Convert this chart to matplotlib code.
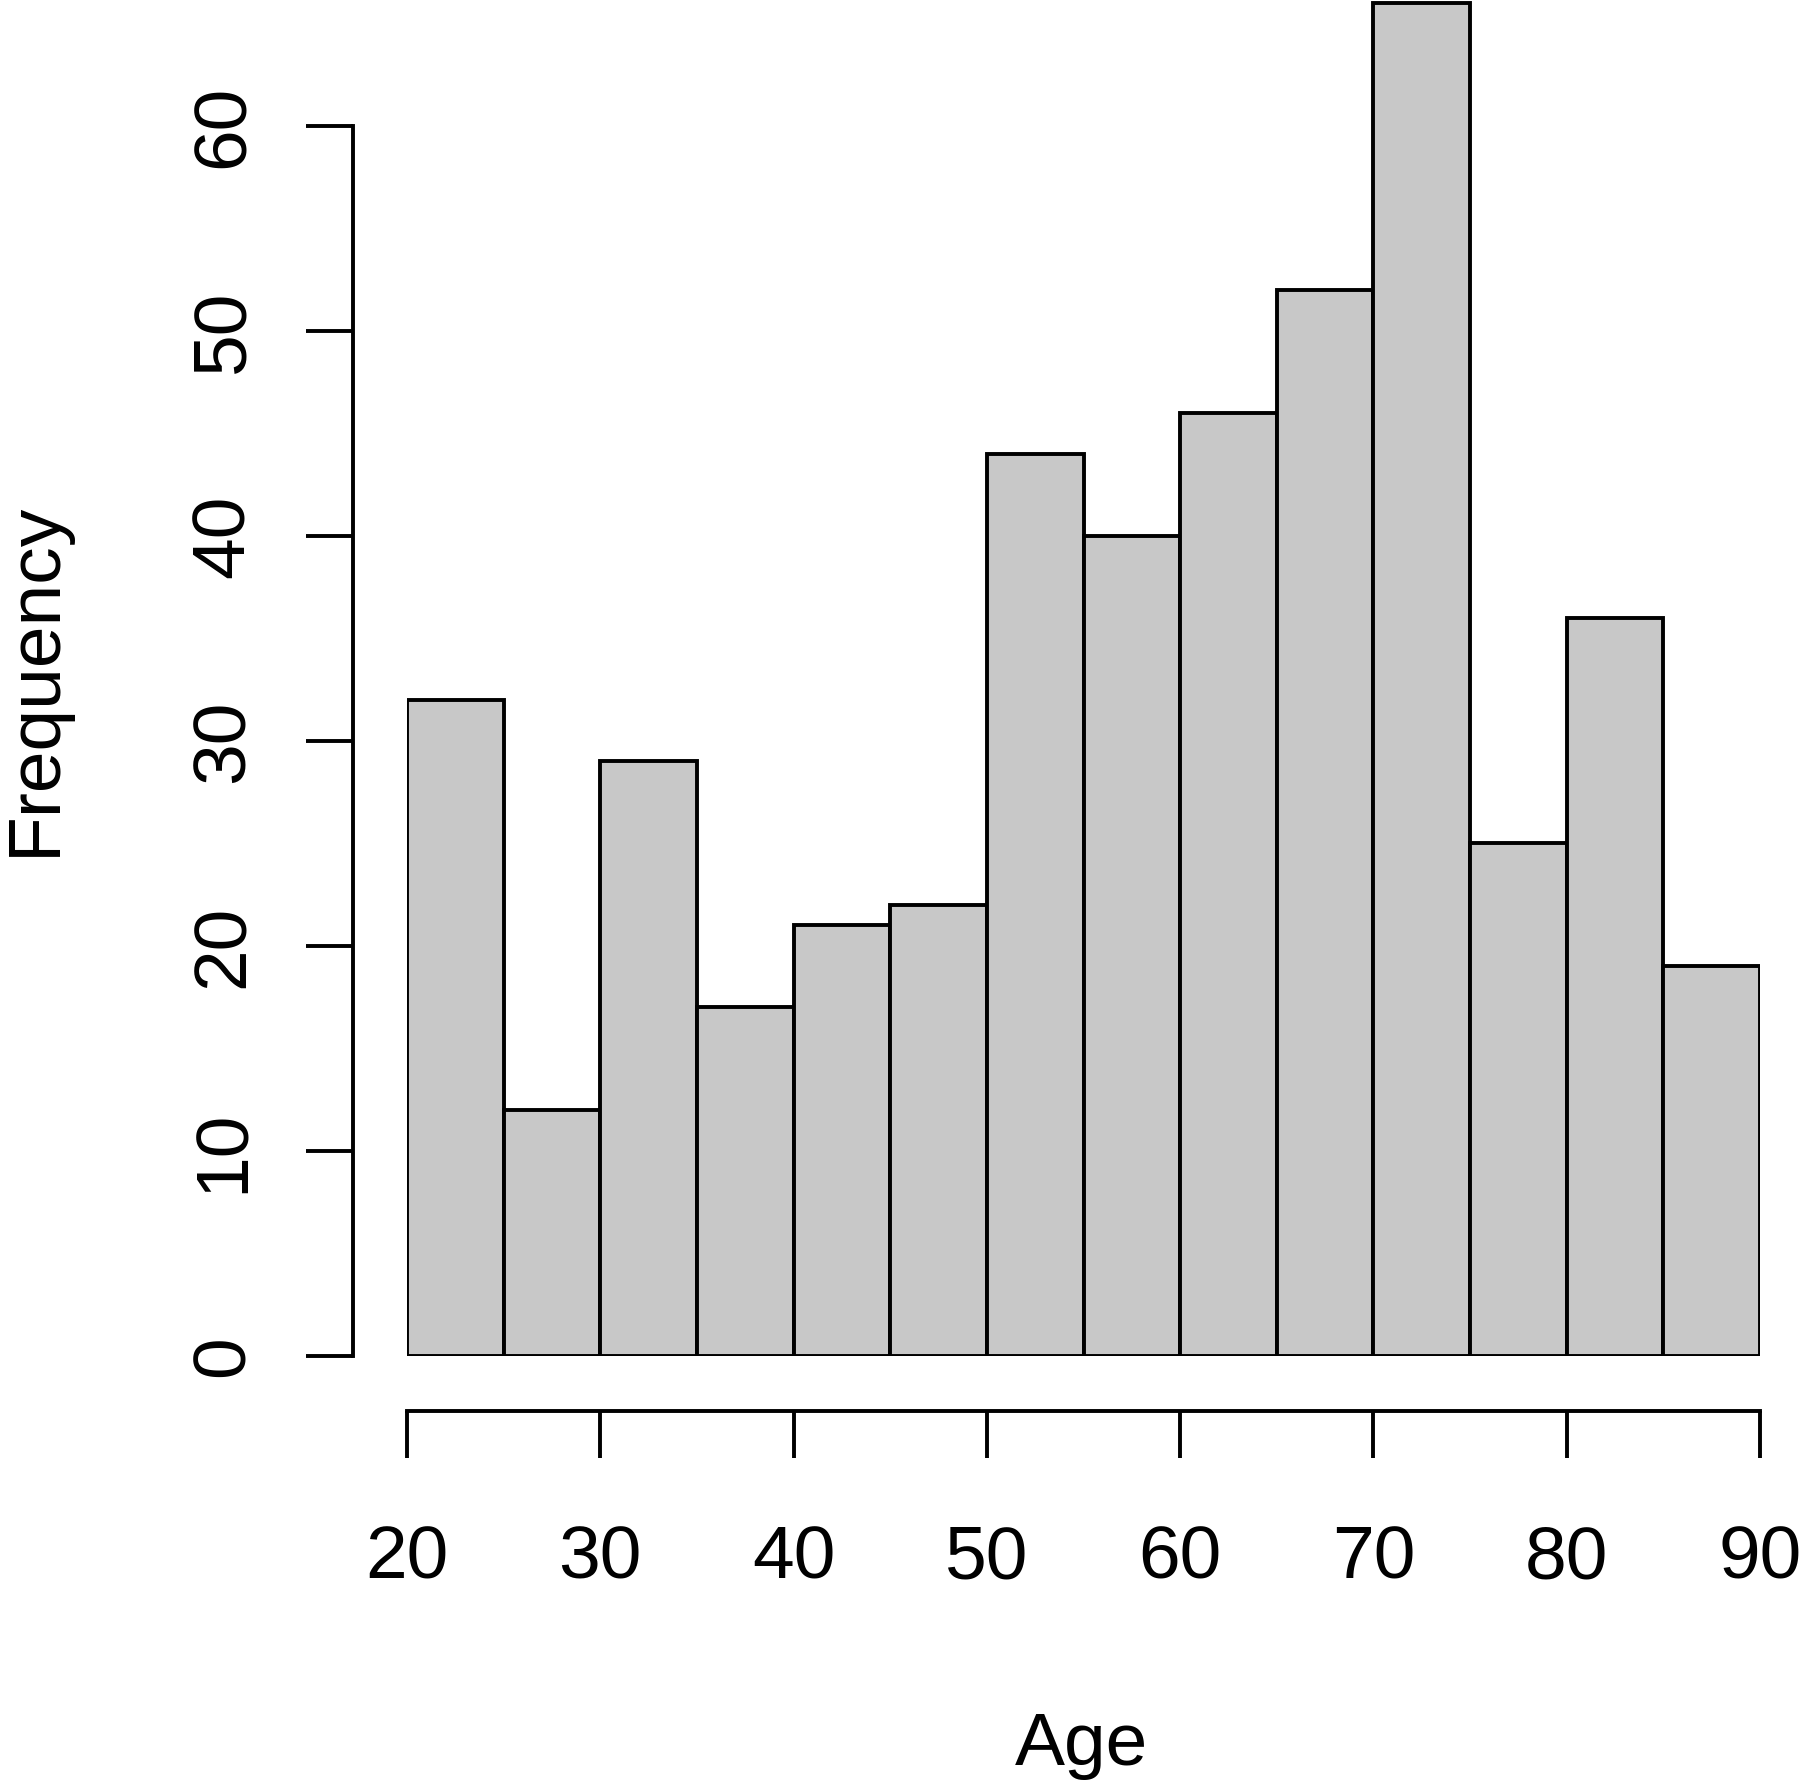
import matplotlib
matplotlib.use("Agg")
import matplotlib.pyplot as plt
from matplotlib import rcParams

rcParams["font.family"] = "Liberation Sans"

bin_left = [20, 25, 30, 35, 40, 45, 50, 55, 60, 65, 70, 75, 80, 85]
bin_width = 5
counts = [32, 12, 29, 17, 21, 22, 44, 40, 46, 52, 66, 25, 36, 19]
x_ticks = [20, 30, 40, 50, 60, 70, 80, 90]
y_ticks = [0, 10, 20, 30, 40, 50, 60]

W, H = 1800, 1781
PT = 0.72  # px -> pt at dpi 100

fig = plt.figure(figsize=(W / 100, H / 100), dpi=100)
ax = fig.add_axes([407 / W, 1 - 1356.5 / H, (1760 - 407) / W, 1356.5 / H])

ax.bar(bin_left, counts, width=bin_width, align="edge",
       color="#c8c8c8", edgecolor="black", linewidth=2.8)

ax.set_xlim(20, 90)
ax.set_ylim(0, 1356.5 / 205 * 10)

for side in ["top", "right"]:
    ax.spines[side].set_visible(False)
ax.spines["left"].set_bounds(0, 60)
ax.spines["bottom"].set_bounds(20, 90)
ax.spines["left"].set_position(("outward", 54 * PT))
ax.spines["bottom"].set_position(("outward", 55.5 * PT))
for side in ["left", "bottom"]:
    ax.spines[side].set_linewidth(2.8)

ax.set_xticks(x_ticks)
ax.set_yticks(y_ticks)
ax.tick_params(length=47 * PT, width=2.8, labelsize=54, direction="out")
ax.tick_params(axis="x", pad=47)
ax.tick_params(axis="y", pad=34)
for lab in ax.get_yticklabels():
    lab.set_rotation(90)
    lab.set_va("center")

fig.text(1081 / W, 1 - 1765 / H, "Age", fontsize=54,
         ha="center", va="baseline")
fig.text(55 / W, 1 - 679 / H, "Frequency", fontsize=54, rotation=90,
         rotation_mode="anchor", ha="center", va="baseline")

fig.savefig("out.png", dpi=100)
